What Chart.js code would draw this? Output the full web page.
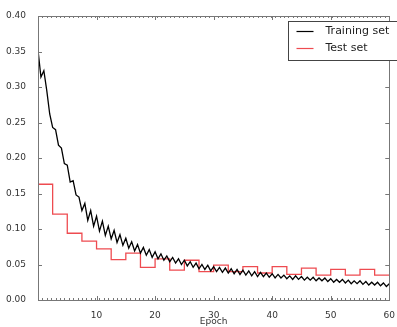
<!DOCTYPE html>
<html>
<head>
<meta charset="utf-8">
<script src="https://cdn.jsdelivr.net/npm/chart.js@4.4.0/dist/chart.umd.min.js"></script>
<style>
  body { margin: 0; background: #fff; }
  canvas { display: block; }
</style>
</head>
<body>
<canvas id="loss" width="397" height="327"></canvas>
<script>
var ctx = document.getElementById("loss");

// training loss, read every half epoch
var trainEpochs = [];
for (var i = 0; i <= 120; i++) trainEpochs.push(i / 2);
var trainLoss = [
    0.352, 0.314, 0.323, 0.295, 0.262, 0.243, 0.240, 0.218, 0.214, 0.192,
    0.190, 0.166, 0.168, 0.148, 0.145, 0.126, 0.136, 0.112, 0.126, 0.104,
    0.118, 0.097, 0.111, 0.091, 0.104, 0.086, 0.098, 0.081, 0.092, 0.077,
    0.087, 0.073, 0.082, 0.069, 0.078, 0.066, 0.074, 0.063, 0.071, 0.060,
    0.068, 0.058, 0.065, 0.056, 0.062, 0.054, 0.060, 0.052, 0.058, 0.050,
    0.056, 0.048, 0.054, 0.046, 0.052, 0.044, 0.050, 0.043, 0.049, 0.041,
    0.047, 0.040, 0.046, 0.039, 0.045, 0.038, 0.044, 0.037, 0.043, 0.036,
    0.042, 0.035, 0.041, 0.034, 0.040, 0.033, 0.039, 0.033, 0.038, 0.032,
    0.037, 0.031, 0.036, 0.031, 0.035, 0.030, 0.034, 0.029, 0.034, 0.029,
    0.033, 0.028, 0.032, 0.028, 0.032, 0.027, 0.031, 0.027, 0.031, 0.026,
    0.030, 0.025, 0.029, 0.025, 0.029, 0.024, 0.028, 0.023, 0.027, 0.023,
    0.027, 0.022, 0.026, 0.021, 0.025, 0.021, 0.025, 0.020, 0.024, 0.019,
    0.023
];

// test loss, one value per 2.5 epochs (held until the next)
var testEpochs = [0, 2.5, 5, 7.5, 10, 12.5, 15, 17.5, 20, 22.5, 25, 27.5,
    30, 32.5, 35, 37.5, 40, 42.5, 45, 47.5, 50, 52.5, 55, 57.5, 60];
var testLoss = [0.163, 0.121, 0.094, 0.083, 0.072, 0.057, 0.066, 0.046,
    0.058, 0.042, 0.056, 0.040, 0.049, 0.040, 0.047, 0.038, 0.047, 0.036,
    0.045, 0.035, 0.043, 0.035, 0.043, 0.035, 0.035];

var xTicks = [10, 20, 30, 40, 50, 60];
var yTicks = [0, 0.05, 0.1, 0.15, 0.2, 0.25, 0.3, 0.35, 0.4];

var font = { family: "DejaVu Sans", size: 9 };

// matplotlib-like frame: inward ticks on all sides + little legend box
var framePlugin = {
    id: "frame",
    afterDraw: function (chart) {
        var c = chart.ctx;
        var a = chart.chartArea;
        var xs = chart.scales.x;
        var ys = chart.scales.y;
        c.save();
        c.strokeStyle = "#777";
        c.lineWidth = 1;
        c.strokeRect(Math.round(a.left) + 0.5, Math.round(a.top) + 0.5,
            Math.round(a.right - a.left), Math.round(a.bottom - a.top));
        c.beginPath();
        for (var m = 0; m <= 60; m += 0.75) {
            var px = Math.round(xs.getPixelForValue(m)) + 0.5;
            c.moveTo(px, a.bottom); c.lineTo(px, a.bottom - 2);
            c.moveTo(px, a.top); c.lineTo(px, a.top + 2);
        }
        xTicks.forEach(function (t) {
            var px = Math.round(xs.getPixelForValue(t)) + 0.5;
            c.moveTo(px, a.bottom); c.lineTo(px, a.bottom - 4);
            c.moveTo(px, a.top); c.lineTo(px, a.top + 4);
        });
        yTicks.forEach(function (t) {
            var py = Math.round(ys.getPixelForValue(t)) + 0.5;
            c.moveTo(a.left, py); c.lineTo(a.left + 4, py);
            c.moveTo(a.right, py); c.lineTo(a.right - 4, py);
        });
        c.stroke();

        // legend
        var lx = 288.5, ly = 21.5;
        c.fillStyle = "#fff";
        c.fillRect(lx, ly, 120, 39);
        c.strokeStyle = "#444";
        c.strokeRect(lx, ly, 120, 39);
        c.font = "11px 'DejaVu Sans'";
        c.textBaseline = "middle";
        chart.data.datasets.forEach(function (ds, i) {
            var yy = ly + 10 + i * 17;
            c.strokeStyle = ds.borderColor;
            c.lineWidth = 1.2;
            c.beginPath();
            c.moveTo(lx + 8, yy); c.lineTo(lx + 25, yy);
            c.stroke();
            c.fillStyle = "#222";
            c.fillText(ds.label, lx + 37, yy);
        });
        c.restore();
    }
};

new Chart(ctx, {
    type: "line",
    data: {
        datasets: [
            {
                label: "Training set",
                data: trainEpochs.map(function (e, i) { return { x: e, y: trainLoss[i] }; }),
                borderColor: "#000000",
                borderWidth: 1.3,
                pointRadius: 0,
                tension: 0,
            },
            {
                label: "Test set",
                data: testEpochs.map(function (e, i) { return { x: e, y: testLoss[i] }; }),
                borderColor: "#ee4b50",
                borderWidth: 1.3,
                pointRadius: 0,
                stepped: "before",
            },
        ],
    },
    options: {
        responsive: false,
        animation: false,
        layout: { padding: { top: 16, right: 5, left: 0, bottom: 0 } },
        scales: {
            x: {
                type: "linear",
                min: 0,
                max: 60,
                afterBuildTicks: function (s) {
                    s.ticks = [0].concat(xTicks).map(function (v) { return { value: v }; });
                },
                afterFit: function (s) { s.height = 27; },
                ticks: {
                    font: font,
                    color: "#333",
                    padding: 2,
                    maxRotation: 0,
                    callback: function (v) { return v === 0 ? "" : v; },
                },
                grid: { display: false },
                border: { display: false },
                title: {
                    display: true,
                    text: "Epoch",
                    font: font,
                    color: "#333",
                    padding: { top: 2, bottom: 0 },
                },
            },
            y: {
                min: 0,
                max: 0.4,
                afterBuildTicks: function (s) {
                    s.ticks = yTicks.map(function (v) { return { value: v }; });
                },
                afterFit: function (s) { s.width = 38; },
                ticks: {
                    font: font,
                    color: "#333",
                    padding: 4,
                    callback: function (v) { return v.toFixed(2); },
                },
                grid: { display: false },
                border: { display: false },
            },
        },
        plugins: {
            legend: { display: false },
            tooltip: { enabled: false },
        },
    },
    plugins: [framePlugin],
});
</script>
</body>
</html>
